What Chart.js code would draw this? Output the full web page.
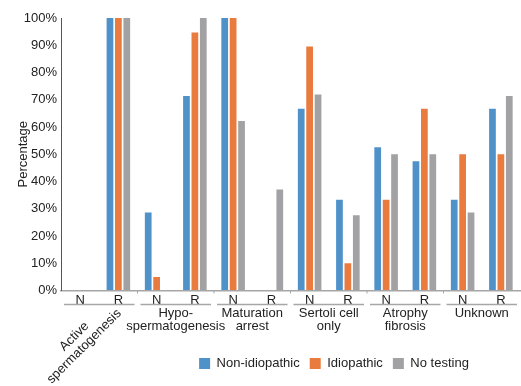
<!DOCTYPE html>
<html>
<head>
<meta charset="utf-8">
<script src="https://cdn.jsdelivr.net/npm/chart.js@4"></script>
<style>
  html, body { margin: 0; padding: 0; background: #fff; }
  #wrap { width: 521px; height: 386px; }
</style>
</head>
<body>
<div id="wrap"><canvas id="barChart"></canvas></div>
<script>
// categories (N / R inside each histology group)
let subLabels = ['N', 'R', 'N', 'R', 'N', 'R', 'N', 'R', 'N', 'R', 'N', 'R'];
let groupLabels = [
    ['Active', 'spermatogenesis'],
    ['Hypo-', 'spermatogenesis'],
    ['Maturation', 'arrest'],
    ['Sertoli cell', 'only'],
    ['Atrophy', 'fibrosis'],
    ['Unknown']
];

// series values, percent
let nonIdiopathic = [0, 100, 28.6, 71.4, 100, 0, 66.7, 33.3, 52.6, 47.4, 33.3, 66.7];
let idiopathic = [0, 100, 5, 94.7, 100, 0, 89.5, 10, 33.3, 66.7, 50, 50];
let noTesting = [0, 100, 0, 100, 62.2, 37.1, 71.9, 27.6, 50, 50, 28.6, 71.4];

let yTicks = [0, 10, 20, 30, 40, 50, 60, 70, 80, 90, 100];

let textColor = '#222222';
let lineGrey = '#a6a6a6';
let fontFamily = "'Liberation Sans', Arial, sans-serif";

// group lines, group labels and boundary ticks under the N/R labels
let groupAxis = {
    id: 'groupAxis',
    afterLayout: function (chart) {
        // legend sits right of centre in the original
        chart.legend.left += 74;
        chart.legend.right += 74;
    },
    afterDraw: function (chart) {
        let xs = chart.scales.x;
        let ctx = chart.ctx;
        let step = xs.getPixelForValue(1) - xs.getPixelForValue(0);
        let lineY = xs.top + 14;
        ctx.save();
        ctx.strokeStyle = lineGrey;
        ctx.lineWidth = 1.5;
        ctx.font = '13px ' + fontFamily;
        ctx.fillStyle = textColor;

        groupLabels.forEach(function (lines, g) {
            let x0 = xs.getPixelForValue(g * 2) - step / 2;
            let x1 = xs.getPixelForValue(g * 2 + 1) + step / 2;
            let mid = (x0 + x1) / 2;

            ctx.beginPath();
            ctx.moveTo(x0 + 3, lineY);
            ctx.lineTo(x1 - 3, lineY);
            ctx.stroke();

            // small tick at the group boundary on the axis line
            if (g > 0) {
                ctx.beginPath();
                ctx.lineWidth = 1;
                ctx.moveTo(x0, xs.top);
                ctx.lineTo(x0, xs.top + 3);
                ctx.stroke();
                ctx.lineWidth = 1.5;
            }

            if (g === 0) {
                // rotated label
                let w = Math.max.apply(null, lines.map(function (t) { return ctx.measureText(t).width; }));
                ctx.save();
                ctx.translate(mid + 15, xs.top + 16);
                ctx.rotate(-Math.PI / 4);
                ctx.textAlign = 'center';
                ctx.textBaseline = 'middle';
                ctx.fillText(lines[0], -w / 2, -7);
                ctx.fillText(lines[1], -w / 2, 7);
                ctx.restore();
            } else {
                ctx.textAlign = 'center';
                ctx.textBaseline = 'middle';
                lines.forEach(function (t, i) {
                    ctx.fillText(t, mid, lineY + 9 + i * 13);
                });
            }
        });
        ctx.restore();
    }
};

function drawChart() {
    let ctx = document.getElementById('barChart').getContext('2d');
    Chart.defaults.font.family = fontFamily;
    Chart.defaults.font.size = 13;
    Chart.defaults.color = textColor;

    new Chart(ctx, {
        type: 'bar',
        data: {
            labels: subLabels,
            datasets: [{
                label: 'Non-idiopathic',
                data: nonIdiopathic,
                backgroundColor: '#4f92ca'
            }, {
                label: 'Idiopathic',
                data: idiopathic,
                backgroundColor: '#ea7b3f'
            }, {
                label: 'No testing',
                data: noTesting,
                backgroundColor: '#a2a2a5'
            }]
        },
        options: {
            responsive: true,
            maintainAspectRatio: false,
            animation: false,
            categoryPercentage: 0.66,
            barPercentage: 0.8,
            layout: {
                padding: { top: 18, bottom: 6, left: 0, right: 1 }
            },
            plugins: {
                tooltip: { enabled: false },
                legend: {
                    position: 'bottom',
                    labels: {
                        boxWidth: 11,
                        boxHeight: 11,
                        padding: 10,
                        color: textColor,
                        font: { size: 13 }
                    }
                }
            },
            scales: {
                x: {
                    grid: { display: false, drawTicks: false },
                    border: { display: true, color: lineGrey, width: 1.5 },
                    ticks: { padding: 2, maxRotation: 0, autoSkip: false },
                    afterFit: function (scale) { scale.height = 56.5; }
                },
                y: {
                    min: 0,
                    max: 100,
                    afterBuildTicks: function (scale) {
                        scale.ticks = yTicks.map(function (v) { return { value: v }; });
                    },
                    ticks: {
                        padding: 4,
                        callback: function (v) { return v + '%'; }
                    },
                    grid: { drawOnChartArea: false, drawTicks: false },
                    border: { display: true, color: '#555555', width: 1 },
                    title: {
                        display: true,
                        text: 'Percentage',
                        padding: { top: 16, bottom: 0 },
                        font: { size: 13 }
                    },
                    afterFit: function (scale) { scale.width = 61; }
                }
            }
        },
        plugins: [groupAxis]
    });
}

drawChart();
</script>
</body>
</html>
